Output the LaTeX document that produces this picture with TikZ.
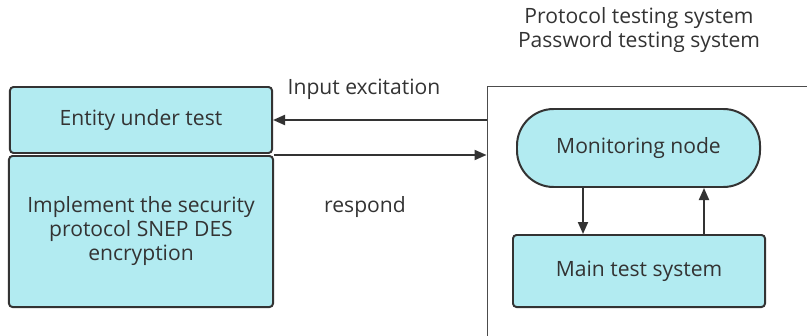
\documentclass[tikz,border=0pt]{standalone}
\usepackage{fontspec}
\setmainfont{Open Sans}
\usetikzlibrary{arrows.meta,calc}
\definecolor{boxfill}{HTML}{B2EBF1}
\definecolor{boxline}{HTML}{333333}
\tikzset{
  block/.style={draw=boxline, fill=boxfill, line width=1.7pt, rounded corners=3pt,
    inner sep=0pt, align=center, text=boxline, font=\fontsize{18}{20.5}\selectfont},
  pill/.style={block, rounded corners=1.1cm},
  frame/.style={draw=black!70, line width=0.8pt, inner sep=0pt},
  lbl/.style={text=boxline, align=center, font=\fontsize{18}{20.5}\selectfont},
  arr/.style={draw=boxline, line width=1.7pt, -{Triangle[length=0.36cm,width=0.3cm]}}
}
\begin{document}
\begin{tikzpicture}[x=0.03cm,y=-0.03cm]
  \useasboundingbox (0,0) rectangle (807,336);
  % outer system frame (runs off the page)
  \node[frame, minimum width=10.5cm, minimum height=7.95cm] (sys) at (662,219) {};
  \node[lbl] (title) at (639,30) {Protocol testing system\\Password testing system};
  % left side
  \node[block, minimum width=7.86cm, minimum height=1.98cm] (ent) at (141,120) {Entity under test};
  \node[block, minimum width=7.92cm, minimum height=4.53cm] (impl) at (141,231.5)
    {Implement the security\\protocol SNEP DES\\encryption};
  % right side
  \node[pill, minimum width=7.29cm, minimum height=2.34cm] (mon) at (638.5,148) {Monitoring node};
  \node[block, minimum width=7.56cm, minimum height=2.16cm] (main) at (639,271) {Main test system};
  \coordinate (dn) at (583,0);
  \coordinate (up) at (704,0);
  % connectors
  \draw[arr] (sys.west |- ent.east) -- (ent.east);
  \draw[arr] (impl.north east) -- (impl.north east -| sys.west);
  \draw[arr] (mon.south -| dn) -- (main.north -| dn);
  \draw[arr] (main.north -| up) -- (mon.south -| up);
  \node[lbl] (inp) at (364,89) {Input excitation};
  \node[lbl] (resp) at (365,207) {respond};
\end{tikzpicture}
\end{document}
